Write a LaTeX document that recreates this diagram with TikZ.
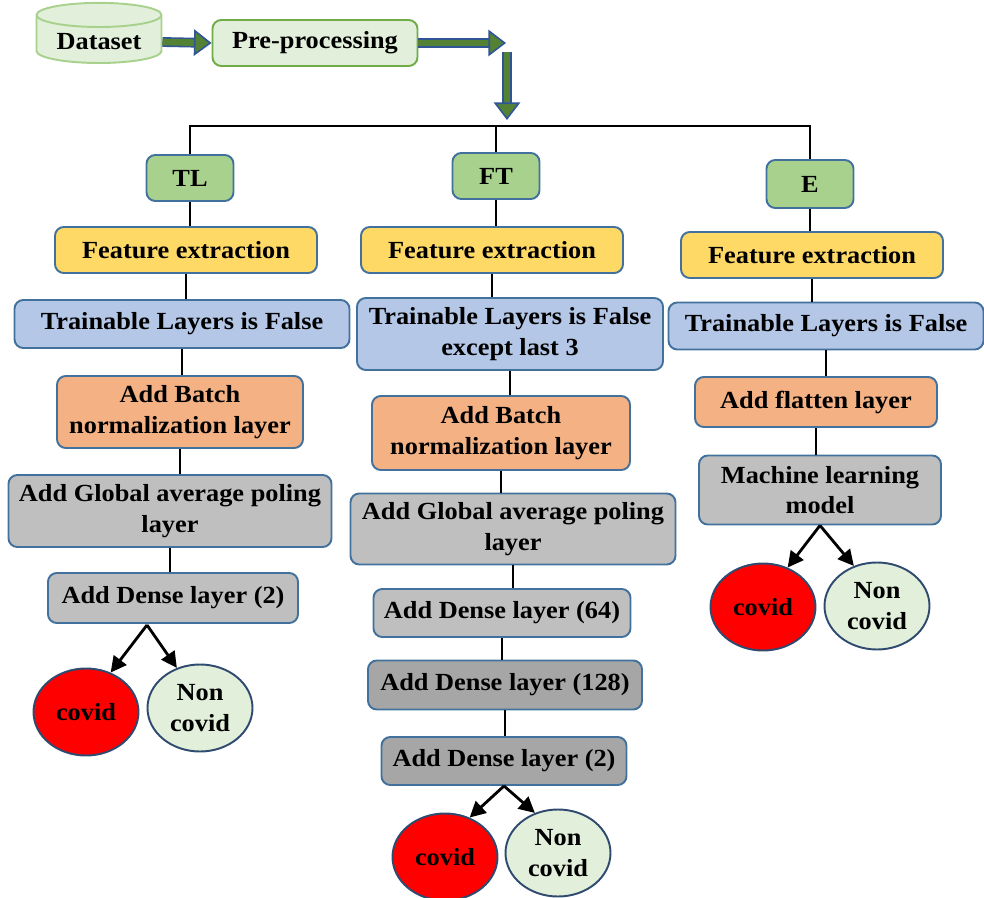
\documentclass[tikz,border=0pt]{standalone}
\usepackage{fontspec}
\setmainfont{Liberation Serif}[FakeStretch=1.07]
\usepackage{tikz}
\usetikzlibrary{arrows.meta,positioning,shapes.geometric}
\definecolor{boxBlue}{RGB}{65,113,156}
\definecolor{stageGreen}{RGB}{169,209,142}
\definecolor{featYellow}{RGB}{255,217,102}
\definecolor{trainBlue}{RGB}{180,199,231}
\definecolor{layerOrange}{RGB}{244,177,131}
\definecolor{layerGray}{RGB}{191,191,191}
\definecolor{layerGrayDark}{RGB}{166,166,166}
\definecolor{paleGreen}{RGB}{226,239,218}
\definecolor{edgeGreen}{RGB}{112,173,71}
\definecolor{arrowGreen}{RGB}{84,130,53}
\definecolor{arrowBlue}{RGB}{47,85,151}
\definecolor{covidRed}{RGB}{255,0,0}
\definecolor{ovalBlue}{RGB}{47,74,111}

\begin{document}
\begin{tikzpicture}[
  font=\fontsize{14}{17.5}\selectfont\bfseries,
  box/.style={draw=boxBlue, line width=1.1pt, rounded corners=5pt, align=center, inner sep=2pt},
  stagebox/.style={box, fill=stageGreen, minimum width=1.74cm, minimum height=0.92cm},
  featbox/.style={box, fill=featYellow, minimum width=5.24cm, minimum height=0.92cm},
  trainbox/.style={box, fill=trainBlue},
  normbox/.style={box, fill=layerOrange},
  graybox/.style={box, fill=layerGray},
  darkbox/.style={box, fill=layerGrayDark},
  oval/.style={ellipse, draw=ovalBlue, line width=1.1pt, minimum width=2.1cm, minimum height=1.74cm, inner sep=0pt, align=center},
  link/.style={line width=1.6pt},
  outarrow/.style={line width=1.6pt, -{Triangle[length=9pt,width=9pt]}},
  blockarrow/.style={draw=arrowBlue, double=arrowGreen, double distance=3.8pt, line width=0.9pt,
    -{Triangle[length=10pt,width=15pt,fill=arrowGreen,line width=0.9pt]}}
]
\useasboundingbox (0,0) rectangle (19.68,-17.96);

% input and pre-processing
\node[cylinder, shape border rotate=90, aspect=0.25, draw=stageGreen, line width=1.1pt,
  cylinder uses custom fill, cylinder body fill=paleGreen, cylinder end fill=paleGreen,
  minimum width=2.5cm, minimum height=1.2cm] (dataset) at (1.98,-0.84) {Dataset};
\node[box, draw=edgeGreen, fill=paleGreen, minimum width=4.1cm, minimum height=0.92cm] (prep) at (6.30,-0.86) {Pre-processing};
\coordinate (turn) at (10.12,-0.86);
\coordinate (top) at (10.14,-1.04);
\coordinate (busin) at (10.14,-2.40);
\coordinate (bus) at (0,-2.52);
\coordinate (tlfork) at (2.94,-12.50);

% TL column
\node[stagebox] (tl) at (3.80,-3.56) {TL};
\node[featbox] (tlfe) at (3.72,-5.00) {Feature extraction};
\node[trainbox, minimum width=6.7cm, minimum height=0.96cm] (tltr) at (3.64,-6.48) {Trainable Layers is False};
\node[normbox, minimum width=4.92cm, minimum height=1.44cm] (tlbn) at (3.60,-8.24) {Add Batch\\normalization layer};
\node[graybox, minimum width=6.46cm, minimum height=1.44cm] (tlgap) at (3.40,-10.22) {Add Global average poling\\layer};
\node[graybox, minimum width=5.0cm, minimum height=1.0cm] (tld2) at (3.46,-11.96) {Add Dense layer (2)};
\node[oval, fill=covidRed] (tlcov) at (1.72,-14.24) {covid};
\node[oval, fill=paleGreen] (tlnon) at (4.00,-14.16) {Non\\covid};

% FT column
\node[stagebox] (ft) at (9.92,-3.52) {FT};
\node[featbox] (ftfe) at (9.84,-5.00) {Feature extraction};
\node[trainbox, minimum width=6.12cm, minimum height=1.44cm] (fttr) at (10.20,-6.68) {Trainable Layers is False\\except last 3};
\node[normbox, minimum width=5.16cm, minimum height=1.48cm] (ftbn) at (10.02,-8.66) {Add Batch\\normalization layer};
\node[graybox, minimum width=6.5cm, minimum height=1.42cm] (ftgap) at (10.26,-10.58) {Add Global average poling\\layer};
\node[graybox, minimum width=5.14cm, minimum height=0.96cm] (ftd64) at (10.04,-12.26) {Add Dense layer (64)};
\node[darkbox, minimum width=5.48cm, minimum height=0.98cm] (ftd128) at (10.10,-13.70) {Add Dense layer (128)};
\node[darkbox, minimum width=4.9cm, minimum height=0.96cm] (ftd2) at (10.08,-15.22) {Add Dense layer (2)};
\node[oval, fill=covidRed] (ftcov) at (8.90,-17.14) {covid};
\node[oval, fill=paleGreen] (ftnon) at (11.16,-17.06) {Non\\covid};

% E column
\node[stagebox, minimum height=0.96cm] (e) at (16.20,-3.68) {E};
\node[featbox] (efe) at (16.24,-5.10) {Feature extraction};
\node[trainbox, minimum width=6.3cm, minimum height=0.94cm] (etr) at (16.52,-6.52) {Trainable Layers is False};
\node[normbox, minimum width=4.84cm, minimum height=1.0cm] (efl) at (16.32,-8.04) {Add flatten layer};
\node[graybox, minimum width=4.84cm, minimum height=1.38cm] (eml) at (16.40,-9.80) {Machine learning\\model};
\node[oval, fill=covidRed] (ecov) at (15.26,-12.14) {covid};
\node[oval, fill=paleGreen] (enon) at (17.54,-12.12) {Non\\covid};

% block arrows
\draw[blockarrow] (dataset.east) -- (prep.west);
\draw[blockarrow] (prep.east) -- (turn);
\draw[blockarrow] (top) -- (busin);

% branching bus
\draw[link] (tl.north) -- (tl.north |- bus) -- (e.north |- bus) -- (e.north);
\draw[link] (ft.north) -- (ft.north |- bus);

% vertical links
\foreach \a/\b in {tl/tlfe, tlfe/tltr, tltr/tlbn, tlbn/tlgap, tlgap/tld2,
                   ft/ftfe, ftfe/fttr, fttr/ftbn, ftbn/ftgap, ftgap/ftd64, ftd64/ftd128, ftd128/ftd2,
                   e/efe, efe/etr, etr/efl, efl/eml}
  \draw[link] (\a.south) -- (\a.south |- \b.north);

% outputs
\draw[outarrow] (tlfork) -- (tlcov.58);
\draw[outarrow] (tlfork) -- (tlnon.120);
\draw[outarrow] (ftd2.south) -- (ftcov.58);
\draw[outarrow] (ftd2.south) -- (ftnon.120);
\draw[outarrow] (eml.south) -- (ecov.58);
\draw[outarrow] (eml.south) -- (enon.120);
\end{tikzpicture}
\end{document}
